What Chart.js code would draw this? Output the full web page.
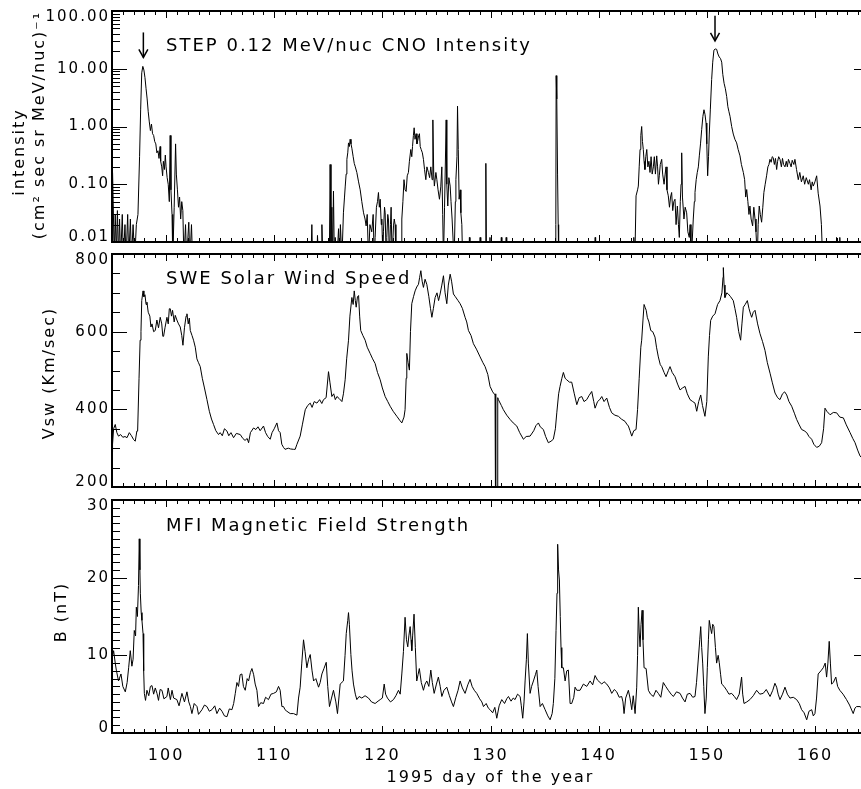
<!DOCTYPE html>
<html>
<head>
<meta charset="utf-8">
<title>WIND 1995 days 95-165</title>
<script src="https://cdn.jsdelivr.net/npm/chart.js@4.4.0/dist/chart.umd.min.js"></script>
<style>
    html, body { margin: 0; padding: 0; background: #fff; overflow: hidden; width: 861px; height: 789px; }
    canvas { position: absolute; left: 0; }
    #cno { top: 0; }
    #vsw { top: 243px; }
    #mag { top: 489px; }
</style>
</head>
<body>
<canvas id="cno" width="872" height="253"></canvas>
<canvas id="vsw" width="872" height="255"></canvas>
<canvas id="mag" width="872" height="300"></canvas>
<script>
// STEP 0.12 MeV/nuc CNO intensity (0.005 = below the axis / no counts)
var cnoDays = [95.0, 95.05, 95.12, 95.2, 95.3, 95.4, 95.5, 95.6, 95.7, 95.8, 95.95, 96.05, 96.2, 96.3, 96.45, 96.55, 96.7, 96.8, 96.95, 97.1,
    97.25, 97.4, 97.55, 97.65, 97.75, 97.85, 97.95, 98.05, 98.15, 98.25, 98.35, 98.45, 98.55, 98.65, 98.75, 98.85, 98.95, 99.05, 99.15, 99.25,
    99.35, 99.45, 99.5, 99.6, 99.68, 99.75, 99.85, 99.93, 100.0, 100.1, 100.2, 100.3, 100.38, 100.45, 100.55, 100.62, 100.75, 100.88, 100.95, 101.05,
    101.15, 101.25, 101.35, 101.45, 101.55, 101.65, 101.8, 101.9, 102.1, 102.2, 102.35, 102.45, 103.0, 113.4, 113.48, 113.55, 113.95, 114.0, 114.1, 114.35,
    114.41, 114.5, 115.1, 115.17, 115.25, 115.33, 115.4, 115.48, 115.56, 115.64, 115.8, 115.95, 116.05, 116.12, 116.26, 116.4, 116.5, 116.57, 116.65, 116.72,
    116.8, 116.87, 116.95, 117.02, 117.1, 117.18, 117.3, 117.4, 117.5, 117.64, 117.8, 117.95, 118.1, 118.26, 118.4, 118.5, 118.6, 118.72, 118.85, 119.02,
    119.15, 119.25, 119.33, 119.45, 119.55, 119.64, 119.72, 119.8, 119.9, 119.95, 120.05, 120.1, 120.2, 120.26, 120.35, 120.41, 120.5, 120.57, 120.65, 120.75,
    120.81, 120.9, 121.03, 121.1, 121.18, 121.25, 121.75, 121.8, 121.9, 122.0, 122.1, 122.2, 122.3, 122.41, 122.5, 122.63, 122.72, 122.79, 122.87, 122.94,
    123.02, 123.12, 123.2, 123.28, 123.36, 123.43, 123.5, 123.59, 123.7, 123.8, 123.9, 124.02, 124.12, 124.26, 124.37, 124.48, 124.6, 124.67, 124.75, 124.81,
    124.95, 125.04, 125.15, 125.28, 125.4, 125.5, 125.58, 125.65, 125.75, 125.9, 125.96, 126.05, 126.15, 126.27, 126.35, 126.45, 126.55, 126.64, 126.75, 126.8,
    126.9, 126.95, 127.02, 127.1, 127.2, 127.26, 127.35, 127.42, 128.0, 128.05, 128.1, 129.0, 129.04, 129.1, 129.5, 129.57, 129.63, 129.9, 129.95, 130.0,
    130.95, 131.0, 131.05, 131.4, 131.45, 131.5, 133.0, 133.04, 133.1, 136.0, 136.04, 136.07, 136.13, 136.2, 136.26, 136.3, 139.65, 139.68, 139.72, 143.2,
    143.25, 143.35, 143.46, 143.6, 143.67, 143.75, 143.83, 143.9, 143.98, 144.05, 144.13, 144.2, 144.28, 144.36, 144.45, 144.55, 144.65, 144.75, 144.85, 144.95,
    145.06, 145.15, 145.25, 145.37, 145.45, 145.53, 145.61, 145.7, 145.83, 145.92, 146.05, 146.15, 146.23, 146.32, 146.44, 146.55, 146.65, 146.75, 146.85, 146.95,
    147.06, 147.16, 147.28, 147.38, 147.46, 147.55, 147.62, 147.68, 147.75, 147.89, 148.0, 148.14, 148.25, 148.38, 148.46, 148.54, 148.65, 148.75, 148.85, 148.91,
    149.02, 149.12, 149.22, 149.31, 149.42, 149.53, 149.64, 149.74, 149.84, 149.93, 150.0, 150.08, 150.16, 150.23, 150.33, 150.45, 150.55, 150.66, 150.78, 150.91,
    151.03, 151.15, 151.27, 151.38, 151.48, 151.6, 151.72, 151.84, 151.95, 152.05, 152.15, 152.3, 152.45, 152.6, 152.76, 152.9, 153.07, 153.2, 153.38, 153.5,
    153.6, 153.69, 153.8, 153.9, 153.99, 154.1, 154.24, 154.35, 154.46, 154.55, 154.67, 154.75, 154.85, 154.95, 155.07, 155.18, 155.28, 155.4, 155.53, 155.65,
    155.75, 155.84, 155.95, 156.05, 156.14, 156.25, 156.35, 156.46, 156.55, 156.65, 156.77, 156.9, 157.0, 157.1, 157.23, 157.35, 157.45, 157.55, 157.69, 157.8,
    157.9, 158.05, 158.15, 158.3, 158.46, 158.6, 158.75, 158.92, 159.05, 159.2, 159.39, 159.5, 159.65, 159.75, 159.85, 160.0, 160.16, 160.3, 160.47, 160.6,
    160.71, 161.95, 162.0, 162.05, 162.25, 162.3, 162.35, 165.0];
var cnoValues = [0.03, 0.16, 0.04, 0.005, 0.03, 0.006, 0.035, 0.005, 0.025, 0.005, 0.03, 0.005, 0.02, 0.005, 0.03, 0.005, 0.025, 0.005, 0.02, 0.005,
    0.02, 0.03, 0.3, 2.0, 8.5, 11, 9.5, 7, 4.5, 3.0, 1.8, 1.2, 0.85, 1.1, 0.75, 0.7, 0.55, 0.5, 0.35, 0.38,
    0.28, 0.45, 0.25, 0.2, 0.14, 0.25, 0.18, 0.32, 0.2, 0.13, 0.1, 0.05, 0.7, 0.08, 0.03, 0.005, 0.04, 0.5, 0.15, 0.08,
    0.04, 0.06, 0.025, 0.05, 0.035, 0.005, 0.02, 0.005, 0.022, 0.005, 0.02, 0.005, 0.005, 0.005, 0.02, 0.005, 0.005, 0.013, 0.005, 0.005,
    0.02, 0.005, 0.005, 0.22, 0.01, 0.04, 0.005, 0.076, 0.005, 0.012, 0.005, 0.017, 0.005, 0.02, 0.005, 0.032, 0.06, 0.093, 0.15, 0.27,
    0.35, 0.52, 0.45, 0.6, 0.5, 0.42, 0.3, 0.23, 0.2, 0.16, 0.11, 0.08, 0.05, 0.032, 0.025, 0.019, 0.03, 0.005, 0.02, 0.015,
    0.03, 0.005, 0.012, 0.04, 0.05, 0.072, 0.04, 0.055, 0.02, 0.025, 0.005, 0.015, 0.04, 0.032, 0.005, 0.012, 0.03, 0.024, 0.005, 0.02,
    0.04, 0.005, 0.019, 0.025, 0.02, 0.005, 0.005, 0.025, 0.05, 0.12, 0.08, 0.075, 0.14, 0.16, 0.25, 0.4, 0.3, 0.45, 0.7, 0.95,
    0.6, 0.75, 0.5, 0.58, 0.7, 0.75, 0.45, 0.4, 0.35, 0.27, 0.18, 0.12, 0.2, 0.16, 0.13, 0.2, 0.12, 1.3, 0.15, 0.093,
    0.16, 0.12, 0.08, 0.055, 0.09, 0.2, 0.03, 0.005, 0.04, 1.3, 0.1, 0.042, 0.13, 0.093, 0.05, 0.025, 0.01, 0.005, 0.05, 0.12,
    0.3, 2.25, 0.4, 0.055, 0.08, 0.032, 0.02, 0.005, 0.005, 0.012, 0.005, 0.005, 0.012, 0.005, 0.005, 0.23, 0.005, 0.005, 0.012, 0.005,
    0.005, 0.012, 0.005, 0.005, 0.012, 0.005, 0.005, 0.011, 0.005, 0.005, 0.02, 7.6, 3, 0.15, 0.02, 0.005, 0.005, 0.012, 0.005, 0.005,
    0.012, 0.005, 0.063, 0.08, 0.093, 0.2, 0.4, 0.7, 1.0, 0.55, 0.4, 0.25, 0.18, 0.3, 0.4, 0.2, 0.25, 0.16, 0.3, 0.15,
    0.2, 0.3, 0.15, 0.31, 0.2, 0.1, 0.14, 0.22, 0.27, 0.15, 0.1, 0.15, 0.2, 0.08, 0.063, 0.04, 0.06, 0.072, 0.035, 0.05,
    0.055, 0.02, 0.042, 0.02, 0.012, 0.05, 0.1, 0.35, 0.06, 0.025, 0.04, 0.032, 0.015, 0.012, 0.02, 0.005, 0.01, 0.025, 0.05, 0.072,
    0.12, 0.16, 0.2, 0.31, 0.5, 0.89, 1.5, 1.95, 1.6, 1.15, 0.5, 0.14, 0.3, 0.74, 2.0, 6.5, 13, 21, 22, 21.7,
    18, 16, 15, 13, 8, 5.6, 4.5, 3.3, 2.2, 1.8, 1.5, 1.0, 0.74, 0.6, 0.52, 0.4, 0.31, 0.22, 0.16, 0.12,
    0.06, 0.081, 0.05, 0.03, 0.042, 0.025, 0.019, 0.04, 0.025, 0.015, 0.005, 0.02, 0.042, 0.03, 0.022, 0.04, 0.072, 0.1, 0.14, 0.2,
    0.22, 0.27, 0.24, 0.3, 0.29, 0.22, 0.28, 0.18, 0.25, 0.3, 0.27, 0.2, 0.28, 0.22, 0.2, 0.25, 0.2, 0.27, 0.23, 0.2,
    0.26, 0.22, 0.27, 0.18, 0.12, 0.16, 0.11, 0.14, 0.1, 0.13, 0.1, 0.12, 0.08, 0.11, 0.093, 0.11, 0.14, 0.07, 0.042, 0.02,
    0.005, 0.005, 0.012, 0.005, 0.005, 0.012, 0.005, 0.005];

// SWE solar wind speed, km/s
var vswDays = [95.0, 95.05, 95.15, 95.3, 95.45, 95.6, 95.8, 96.0, 96.2, 96.39, 96.6, 96.8, 97.0, 97.15, 97.3, 97.37, 97.5, 97.6, 97.68, 97.75,
    97.87, 97.95, 98.05, 98.15, 98.23, 98.35, 98.5, 98.6, 98.7, 98.85, 99.0, 99.15, 99.3, 99.46, 99.6, 99.7, 99.77, 99.9, 100.08, 100.2,
    100.3, 100.39, 100.5, 100.6, 100.75, 100.85, 101.0, 101.15, 101.31, 101.45, 101.56, 101.7, 101.85, 101.93, 102.05, 102.15, 102.24, 102.4, 102.54, 102.7,
    102.85, 103.0, 103.16, 103.35, 103.55, 103.78, 104.0, 104.2, 104.39, 104.6, 104.85, 105.0, 105.2, 105.4, 105.63, 105.8, 106.0, 106.24, 106.5, 106.86,
    107.1, 107.3, 107.5, 107.63, 107.8, 108.09, 108.3, 108.5, 108.7, 109.01, 109.2, 109.4, 109.63, 109.8, 110.0, 110.25, 110.4, 110.55, 110.7, 110.86,
    111.0, 111.3, 111.5, 111.79, 111.94, 112.1, 112.4, 112.6, 112.87, 113.1, 113.33, 113.5, 113.7, 113.95, 114.2, 114.4, 114.56, 114.8, 115.02, 115.15,
    115.33, 115.5, 115.65, 115.8, 116.0, 116.26, 116.4, 116.56, 116.7, 116.87, 117.0, 117.18, 117.3, 117.4, 117.5, 117.58, 117.7, 117.8, 117.9, 118.0,
    118.2, 118.41, 118.6, 118.87, 119.1, 119.33, 119.55, 119.8, 120.0, 120.26, 120.5, 120.72, 121.0, 121.34, 121.6, 121.8, 122.0, 122.1, 122.2, 122.26,
    122.38, 122.5, 122.6, 122.72, 122.88, 123.03, 123.18, 123.34, 123.45, 123.56, 123.68, 123.8, 123.95, 124.11, 124.3, 124.45, 124.58, 124.72, 124.88, 125.05,
    125.2, 125.34, 125.5, 125.65, 125.8, 125.96, 126.1, 126.27, 126.4, 126.57, 126.75, 127.0, 127.19, 127.4, 127.65, 127.8, 127.96, 128.2, 128.42, 128.7,
    129.04, 129.3, 129.5, 129.75, 129.96, 130.2, 130.42, 130.48, 130.49, 130.66, 130.67, 130.73, 131.0, 131.19, 131.5, 131.81, 132.1, 132.43, 132.7, 133.04,
    133.3, 133.66, 134.0, 134.2, 134.43, 134.6, 134.89, 135.1, 135.35, 135.6, 135.81, 136.0, 136.13, 136.3, 136.43, 136.6, 136.74, 136.9, 137.05, 137.3,
    137.51, 137.75, 137.98, 138.2, 138.44, 138.65, 138.9, 139.1, 139.36, 139.55, 139.67, 139.9, 140.1, 140.29, 140.5, 140.75, 141.0, 141.21, 141.5, 141.83,
    142.1, 142.44, 142.6, 142.75, 142.9, 143.06, 143.25, 143.46, 143.6, 143.75, 143.9, 143.98, 144.1, 144.2, 144.29, 144.4, 144.5, 144.65, 144.82, 145.0,
    145.21, 145.35, 145.52, 145.7, 145.83, 146.05, 146.23, 146.45, 146.6, 146.8, 147.06, 147.3, 147.53, 147.75, 147.99, 148.2, 148.45, 148.7, 148.91, 149.07,
    149.25, 149.44, 149.6, 149.83, 150.0, 150.14, 150.25, 150.36, 150.55, 150.76, 151.0, 151.22, 151.4, 151.5, 151.53, 151.6, 151.68, 151.85, 151.99, 152.2,
    152.45, 152.6, 152.76, 152.95, 153.13, 153.25, 153.38, 153.55, 153.75, 153.9, 154.05, 154.15, 154.3, 154.46, 154.7, 154.92, 155.15, 155.38, 155.6, 155.85,
    156.05, 156.31, 156.55, 156.77, 157.0, 157.2, 157.39, 157.6, 157.85, 158.1, 158.31, 158.55, 158.77, 159.0, 159.24, 159.45, 159.7, 159.9, 160.16, 160.4,
    160.62, 160.8, 160.93, 161.1, 161.4, 161.7, 162.01, 162.3, 162.63, 162.9, 163.25, 163.5, 163.71, 163.95, 164.17, 164.5, 165.0];
var vswValues = [290, 310, 350, 361, 340, 331, 335, 328, 330, 327, 340, 332, 322, 318, 344, 344, 480, 578, 600, 680,
    705, 690, 695, 670, 676, 650, 640, 612, 620, 600, 603, 630, 610, 637, 620, 588, 588, 610, 637, 620,
    659, 659, 640, 655, 625, 642, 630, 620, 612, 590, 565, 610, 640, 646, 620, 635, 603, 590, 578, 560,
    530, 520, 510, 480, 455, 425, 395, 375, 361, 345, 335, 340, 332, 350, 344, 332, 340, 327, 338, 335,
    325, 320, 325, 314, 340, 352, 348, 355, 345, 357, 340, 330, 323, 340, 350, 365, 345, 340, 310, 302,
    297, 300, 298, 297, 297, 310, 331, 360, 399, 410, 416, 405, 420, 416, 425, 415, 425, 430, 497, 470,
    433, 440, 425, 433, 428, 420, 440, 476, 530, 578, 640, 688, 670, 705, 680, 663, 690, 693, 640, 603,
    590, 578, 560, 544, 530, 518, 495, 476, 455, 433, 420, 408, 395, 382, 372, 365, 380, 399, 480, 544,
    520, 501, 600, 672, 690, 705, 715, 722, 740, 757, 730, 714, 735, 722, 690, 660, 637, 660, 688, 700,
    680, 697, 720, 744, 700, 672, 720, 748, 730, 697, 690, 680, 672, 660, 637, 625, 603, 590, 569, 555,
    535, 520, 510, 490, 459, 445, 437, 440, 0, 0, 430, 425, 410, 399, 385, 374, 365, 357, 340, 323,
    330, 331, 345, 358, 365, 355, 348, 330, 314, 318, 323, 350, 391, 440, 459, 480, 495, 480, 476, 470,
    470, 440, 412, 430, 433, 420, 425, 435, 446, 420, 403, 420, 425, 433, 420, 429, 405, 391, 385, 382,
    375, 369, 362, 357, 345, 331, 345, 348, 400, 480, 560, 578, 630, 670, 663, 655, 637, 625, 603, 600,
    586, 560, 535, 515, 510, 495, 484, 500, 510, 495, 484, 465, 450, 455, 459, 440, 425, 420, 416, 395,
    420, 437, 410, 382, 420, 535, 590, 629, 640, 646, 670, 680, 700, 740, 765, 720, 688, 700, 697, 690,
    680, 660, 637, 600, 578, 620, 663, 670, 680, 660, 645, 637, 650, 655, 620, 595, 575, 552, 520, 493,
    470, 442, 430, 425, 440, 445, 437, 420, 408, 390, 374, 360, 348, 345, 340, 330, 323, 310, 302, 305,
    314, 350, 403, 395, 386, 392, 391, 380, 378, 360, 340, 325, 314, 295, 280, 270, 265];

// MFI magnetic field strength, nT
var bDays = [95.0, 95.15, 95.3, 95.4, 95.6, 95.83, 96.0, 96.23, 96.4, 96.54, 96.69, 96.84, 96.95, 97.06, 97.18, 97.25, 97.35, 97.45, 97.52, 97.58,
    97.62, 97.7, 97.77, 97.87, 97.93, 97.99, 98.1, 98.23, 98.4, 98.55, 98.7, 98.85, 99.0, 99.16, 99.3, 99.45, 99.62, 99.8, 100.08, 100.2,
    100.4, 100.55, 100.7, 101.0, 101.2, 101.47, 101.7, 101.93, 102.1, 102.25, 102.39, 102.6, 102.86, 103.0, 103.32, 103.55, 103.78, 104.0, 104.24, 104.5,
    104.7, 104.95, 105.17, 105.4, 105.63, 105.85, 106.09, 106.25, 106.4, 106.55, 106.7, 106.85, 107.01, 107.15, 107.32, 107.5, 107.63, 107.8, 107.94, 108.1,
    108.24, 108.4, 108.55, 108.75, 109.01, 109.2, 109.47, 109.7, 109.94, 110.2, 110.4, 110.55, 110.71, 110.86, 111.0, 111.17, 111.48, 111.79, 112.1, 112.25,
    112.4, 112.55, 112.71, 112.85, 113.02, 113.18, 113.33, 113.5, 113.64, 113.85, 114.1, 114.25, 114.41, 114.6, 114.81, 114.95, 115.11, 115.3, 115.48, 115.7,
    115.85, 116.1, 116.4, 116.55, 116.66, 116.8, 116.87, 116.95, 117.09, 117.2, 117.33, 117.5, 117.64, 117.85, 118.1, 118.4, 118.72, 119.0, 119.33, 119.6,
    119.8, 120.0, 120.17, 120.3, 120.47, 120.75, 121.03, 121.25, 121.49, 121.65, 121.8, 121.95, 122.1, 122.23, 122.35, 122.45, 122.57, 122.65, 122.72, 122.8,
    122.93, 123.05, 123.18, 123.3, 123.42, 123.6, 123.8, 123.95, 124.11, 124.3, 124.48, 124.62, 124.79, 125.0, 125.18, 125.35, 125.5, 125.7, 125.96, 126.2,
    126.4, 126.57, 126.8, 127.0, 127.19, 127.4, 127.65, 127.9, 128.11, 128.3, 128.5, 128.73, 129.0, 129.2, 129.35, 129.6, 129.8, 129.96, 130.2, 130.4,
    130.58, 130.8, 131.04, 131.3, 131.5, 131.66, 131.9, 132.1, 132.27, 132.5, 132.74, 132.85, 132.98, 133.1, 133.2, 133.32, 133.41, 133.5, 133.66, 133.8,
    133.97, 134.15, 134.28, 134.4, 134.59, 134.8, 135.05, 135.3, 135.51, 135.7, 135.81, 135.95, 136.06, 136.15, 136.21, 136.29, 136.37, 136.45, 136.52, 136.59,
    136.74, 136.9, 137.05, 137.2, 137.36, 137.51, 137.7, 137.82, 137.98, 138.28, 138.59, 138.9, 139.21, 139.45, 139.67, 139.9, 140.29, 140.5, 140.75, 141.0,
    141.21, 141.45, 141.67, 141.9, 142.13, 142.25, 142.35, 142.5, 142.75, 142.9, 143.06, 143.2, 143.37, 143.52, 143.6, 143.67, 143.75, 143.83, 143.92, 144.02,
    144.1, 144.2, 144.39, 144.6, 144.8, 145.06, 145.3, 145.52, 145.75, 145.98, 146.2, 146.44, 146.7, 146.91, 147.2, 147.53, 147.75, 147.99, 148.2, 148.45,
    148.7, 148.91, 149.05, 149.21, 149.35, 149.44, 149.53, 149.62, 149.72, 149.83, 149.95, 150.05, 150.15, 150.23, 150.35, 150.45, 150.55, 150.66, 150.8, 150.91,
    151.05, 151.15, 151.28, 151.38, 151.6, 151.84, 152.05, 152.3, 152.55, 152.76, 153.0, 153.22, 153.32, 153.44, 153.7, 153.99, 154.3, 154.61, 154.9, 155.22,
    155.5, 155.85, 156.1, 156.3, 156.46, 156.6, 156.77, 157.0, 157.23, 157.45, 157.69, 158.0, 158.31, 158.55, 158.77, 159.0, 159.24, 159.45, 159.7, 159.85,
    160.0, 160.15, 160.3, 160.55, 160.77, 160.95, 161.08, 161.2, 161.32, 161.43, 161.54, 161.7, 161.93, 162.1, 162.3, 162.6, 162.92, 163.2, 163.54, 163.7,
    163.85, 164.17, 164.5, 165.0];
var bValues = [9.5, 10.6, 9.0, 8.1, 6.7, 7.6, 6.0, 5.3, 6.5, 8.4, 10.6, 8.6, 9.5, 13.2, 12.5, 16.2, 15.0, 19, 25.0, 21,
    18.0, 15.5, 14.5, 12.8, 8, 5.1, 4.2, 5.5, 4.8, 6.0, 6.1, 5.0, 5.8, 5.1, 4.2, 5.6, 5.5, 4.4, 4.7, 5.8,
    4.3, 5.5, 4.5, 4.3, 3.5, 5.1, 4.0, 5.3, 4.0, 3.4, 2.5, 3.8, 3.4, 2.4, 3.0, 3.6, 3.4, 2.8, 3.0, 3.5,
    2.5, 3.2, 2.8, 2.2, 2.1, 3.1, 3.0, 3.8, 5.1, 6.5, 6.0, 7.5, 7.6, 6.0, 5.5, 7.0, 6.7, 7.8, 8.3, 7.5,
    6.3, 5.5, 3.4, 3.9, 3.8, 4.6, 4.3, 5.0, 5.1, 5.3, 6.0, 5.5, 3.4, 3.4, 3.0, 2.8, 2.5, 2.5, 2.3, 4.5,
    5.9, 9, 12.0, 10.5, 8.4, 9.5, 10.1, 8.0, 6.7, 7.0, 5.9, 6.5, 7.6, 8.3, 9.1, 6.0, 3.4, 4.5, 5.5, 4.0,
    2.5, 6.3, 6.7, 10, 12.8, 14.5, 15.5, 14.0, 10.1, 8.0, 6.3, 5.0, 4.3, 4.7, 4.5, 4.8, 4.5, 4.0, 3.8, 4.1,
    4.3, 4.5, 6.3, 5.0, 4.5, 4.0, 4.3, 4.8, 5.5, 5.0, 7.6, 10.5, 14.9, 12, 11.1, 12.5, 13.7, 12, 10.6, 12.5,
    15.3, 11, 6.7, 7.5, 8.3, 6.5, 5.5, 6.3, 6.7, 6.0, 8.1, 6.5, 5.1, 6.3, 7.2, 6.0, 4.7, 5.5, 5.9, 4.8,
    4.0, 3.4, 4.6, 5.5, 6.7, 5.8, 5.1, 6.2, 6.9, 6.0, 5.5, 5.1, 4.4, 4.0, 3.4, 3.8, 3.2, 3.0, 2.6, 3.3,
    1.9, 3.5, 4.3, 3.8, 4.4, 4.7, 4.1, 4.5, 4.3, 5.0, 4.7, 3.5, 1.9, 4.0, 6.7, 9.5, 12.8, 9.0, 5.1, 6.0,
    6.7, 7.5, 8.1, 6.0, 3.4, 3.8, 3.0, 2.2, 1.7, 2.5, 3.8, 7.0, 13.2, 18, 24.3, 21.0, 19.7, 15, 11, 8.4,
    8.4, 6.7, 8.0, 8.1, 3.8, 3.8, 4.6, 5.9, 5.5, 5.5, 6.3, 6.0, 6.7, 6.2, 7.4, 6.8, 6.3, 6.6, 6.3, 5.8,
    5.1, 5.6, 5.3, 4.6, 4.7, 4.0, 2.5, 4.5, 5.5, 4.5, 3.0, 4.8, 2.5, 5.9, 10, 16.2, 13, 11.1, 14, 15.8,
    12, 8.4, 8.3, 5.5, 5.0, 4.7, 5.5, 5.1, 4.6, 6.5, 6.0, 5.5, 5.0, 4.7, 5.3, 5.1, 4.5, 4.0, 5.0, 5.1,
    4.6, 4.7, 6.5, 9.4, 12, 13.7, 11, 9.0, 6, 2.5, 4.5, 8.4, 12, 14.5, 13.5, 12.8, 14, 13.7, 11, 9.0,
    10, 9.1, 7.5, 6.3, 6.0, 5.5, 5.0, 5.1, 4.7, 4.3, 5.0, 7.2, 5.0, 3.8, 4.0, 4.3, 4.8, 5.5, 5.0, 5.1,
    5.6, 4.7, 5.5, 6.4, 5.9, 5.0, 4.3, 5.0, 5.9, 5.0, 4.5, 4.6, 4.3, 3.8, 3.0, 2.6, 1.7, 2.8, 3.0, 2.2,
    2.5, 4.5, 7.6, 8.0, 8.4, 9.0, 7.2, 9, 11.8, 9, 6.3, 6.5, 7.2, 6.0, 5.5, 5.0, 4.3, 3.6, 2.5, 3.2,
    3.4, 3.4, 3.0, 3.2];

var dayMin = 95, dayMax = 165;
var dayTickLabels = [100, 110, 120, 130, 140, 150, 160];
var arrowDays = [97.9, 150.76];
var arrowTips = [15.7, 30.4];
var fontFamily = '"DejaVu Sans", sans-serif';

function toPoints(days, values) {
    return days.map(function (d, i) { return { x: d, y: values[i] }; });
}

// IDL puts the end labels of the y axis inside the box, not centred on the corner
function nudgeEndLabels(scale) {
    var items = scale.getLabelItems ? scale.getLabelItems() : [];
    var shown = items.filter(function (it) { return it.label !== '' && it.options && it.options.translation; });
    if (shown.length < 2) return;
    var top = shown[0], bottom = shown[0];
    shown.forEach(function (it) {
        if (it.options.translation[1] < top.options.translation[1]) top = it;
        if (it.options.translation[1] > bottom.options.translation[1]) bottom = it;
    });
    if (!top._nudged) { top.options.translation[1] += 6; top._nudged = true; }
    if (!bottom._nudged) { bottom.options.translation[1] -= 5; bottom._nudged = true; }
}

// IDL style box: inward ticks on all four sides, panel label, rotated y title
var panelFrame = {
    id: 'panelFrame',
    beforeDraw: function (chart) {
        chart.ctx.letterSpacing = '2px';
        nudgeEndLabels(chart.scales.y);
    },
    afterDraw: function (chart, args, opts) {
        var ctx = chart.ctx, a = chart.chartArea;
        var xs = chart.scales.x, ys = chart.scales.y;
        function seg(x1, y1, x2, y2) {
            ctx.beginPath(); ctx.moveTo(x1, y1); ctx.lineTo(x2, y2); ctx.stroke();
        }
        ctx.save();
        ctx.strokeStyle = '#000';
        ctx.fillStyle = '#000';
        ctx.lineWidth = 1;
        for (var d = dayMin; d <= dayMax; d++) {
            var px = Math.round(xs.getPixelForValue(d)) + 0.5;
            var len = d % 10 === 0 ? 7 : 4;
            seg(px, a.top, px, a.top + len);
            seg(px, a.bottom, px, a.bottom - len);
        }
        opts.yMajor.forEach(function (v) {
            var py = Math.round(ys.getPixelForValue(v)) + 0.5;
            seg(a.left, py, a.left + 15, py);
            seg(a.right, py, a.right - 15, py);
        });
        opts.yMinor.forEach(function (v) {
            var py = Math.round(ys.getPixelForValue(v)) + 0.5;
            seg(a.left, py, a.left + 8, py);
            seg(a.right, py, a.right - 8, py);
        });
        ctx.lineWidth = 2;
        ctx.strokeRect(a.left, a.top, a.right - a.left, a.bottom - a.top);

        ctx.letterSpacing = '2px';
        ctx.font = '18px ' + fontFamily;
        ctx.textAlign = 'left';
        ctx.textBaseline = 'alphabetic';
        ctx.fillText(opts.label, xs.getPixelForValue(opts.labelAt[0]), ys.getPixelForValue(opts.labelAt[1]));

        ctx.font = '16px ' + fontFamily;
        ctx.textAlign = 'center';
        ctx.textBaseline = 'middle';
        opts.yTitle.forEach(function (t) {
            ctx.save();
            ctx.translate(t.x, t.y);
            ctx.rotate(-Math.PI / 2);
            ctx.fillText(t.text, 0, 0);
            ctx.restore();
        });

        if (opts.arrows) {
            ctx.lineWidth = 1.5;
            opts.arrows.forEach(function (ar) {
                var ax = xs.getPixelForValue(ar[0]), ay = ys.getPixelForValue(ar[1]);
                seg(ax, ay, ax, ay - 25);
                ctx.beginPath();
                ctx.moveTo(ax - 4.5, ay - 8); ctx.lineTo(ax, ay); ctx.lineTo(ax + 4.5, ay - 8);
                ctx.stroke();
            });
        }
        ctx.restore();
    }
};

function yAxisWidth(scale) { scale.width = 112; }

function makePanel(canvasId, dataset, yScale, frameOpts, xShown, padTop, padBottom) {
    var xScale = {
        type: 'linear', min: dayMin, max: dayMax, display: xShown,
        grid: { display: false, drawTicks: false }, border: { display: false },
        ticks: { padding: 13, color: '#000', font: { family: fontFamily, size: 16 } },
        title: { display: xShown, text: '1995 day of the year', color: '#000', font: { family: fontFamily, size: 16 }, padding: { top: 0, bottom: 2 } },
        afterBuildTicks: function (scale) {
            scale.ticks = dayTickLabels.map(function (v) { return { value: v }; });
        }
    };
    if (xShown) {
        xScale.afterFit = function (scale) { scale.height = 56; };
    }
    yScale.grid = { display: false, drawTicks: false };
    yScale.border = { display: false };
    yScale.afterFit = yAxisWidth;
    return new Chart(document.getElementById(canvasId), {
        type: 'line',
        data: {
            datasets: [{
                data: dataset,
                borderColor: '#000',
                borderWidth: 1,
                pointRadius: 0,
                fill: false,
                tension: 0
            }]
        },
        options: {
            responsive: false,
            animation: false,
            devicePixelRatio: 1,
            layout: { padding: { left: 0, right: 3, top: padTop, bottom: padBottom } },
            plugins: { legend: { display: false }, tooltip: { enabled: false }, panelFrame: frameOpts },
            scales: { x: xScale, y: yScale }
        },
        plugins: [panelFrame]
    });
}

var logMinor = [];
[0.01, 0.1, 1, 10].forEach(function (dec) {
    for (var k = 2; k <= 9; k++) logMinor.push(dec * k);
});
function steps(from, to, step) {
    var out = [];
    for (var v = from; v <= to + 1e-9; v += step) out.push(v);
    return out;
}
var tickFont = { family: fontFamily, size: 15 };

makePanel('cno', toPoints(cnoDays, cnoValues), {
    type: 'logarithmic', min: 0.01, max: 100,
    ticks: {
        autoSkip: false, padding: 2, color: '#000', font: tickFont,
        callback: function (value) {
            var l = Math.log10(value);
            return Math.abs(l - Math.round(l)) < 1e-6 ? value.toFixed(2) : '';
        }
    }
}, {
    yMajor: [0.01, 0.1, 1, 10, 100], yMinor: logMinor,
    label: 'STEP 0.12 MeV/nuc CNO Intensity', labelAt: [100, 20],
    yTitle: [{ text: 'intensity', x: 20, y: 152 }, { text: '(cm² sec sr MeV/nuc)⁻¹', x: 40, y: 125 }],
    arrows: arrowDays.map(function (d, i) { return [d, arrowTips[i]]; })
}, false, 10, 10);

makePanel('vsw', toPoints(vswDays, vswValues), {
    type: 'linear', min: 200, max: 800,
    ticks: { stepSize: 200, padding: 2, color: '#000', font: tickFont }
}, {
    yMajor: steps(200, 800, 200), yMinor: steps(250, 750, 50),
    label: 'SWE Solar Wind Speed', labelAt: [100, 723],
    yTitle: [{ text: 'Vsw (Km/sec)', x: 50, y: 130 }]
}, false, 10, 10);

makePanel('mag', toPoints(bDays, bValues), {
    type: 'linear', min: 0, max: 30,
    ticks: { stepSize: 10, padding: 2, color: '#000', font: tickFont }
}, {
    yMajor: steps(0, 30, 10), yMinor: steps(1, 29, 1),
    label: 'MFI Magnetic Field Strength', labelAt: [100, 26],
    yTitle: [{ text: 'B (nT)', x: 62, y: 123 }]
}, true, 10, 0);
</script>
</body>
</html>
